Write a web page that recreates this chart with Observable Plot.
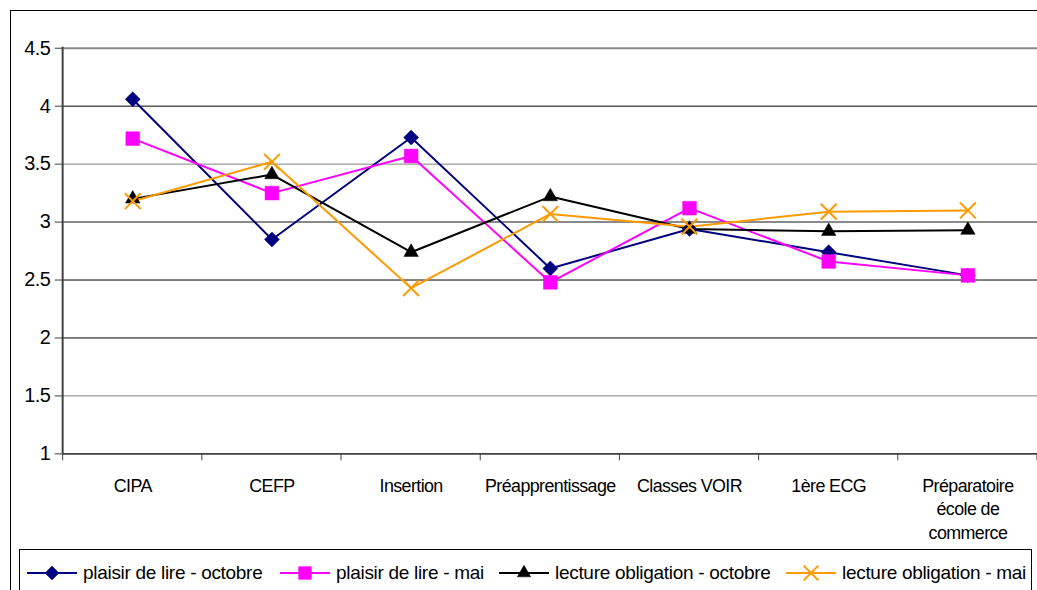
<!DOCTYPE html>
<html><head><meta charset="utf-8">
<script src="https://cdn.jsdelivr.net/npm/d3@7"></script>
<script src="https://cdn.jsdelivr.net/npm/@observablehq/plot@0.6"></script>
<style>
html,body{margin:0;padding:0;background:#fff;overflow:hidden;width:1037px;height:590px}
#wrap{position:relative;width:1037px;height:590px;overflow:hidden;font-family:'Liberation Sans',Arial,sans-serif}
#frame{position:absolute;left:10px;top:10px;width:1200px;height:700px;border:1px solid #000;box-sizing:border-box}
#chart{position:absolute;left:0;top:0}
#legend{position:absolute;left:19px;top:549px;width:1013px;height:60px;border:1px solid #000;box-sizing:border-box;background:#fff;
  font-size:19px;letter-spacing:-0.3px;color:#000;white-space:nowrap}
.item{position:absolute;top:12px;display:flex;align-items:center}
.item svg{margin-right:6px;overflow:visible}
</style></head>
<body><div id="wrap"><div id="frame"></div><div id="chart"></div><div id="legend"></div></div>
<script>
// ---- data ----
const categories = ["CIPA","CEFP","Insertion","Préapprentissage","Classes VOIR","1ère ECG","Préparatoire école de commerce"];
const tickLabels = ["CIPA","CEFP","Insertion","Préapprentissage","Classes VOIR","1ère ECG","Préparatoire\nécole de\ncommerce"];
const seriesNames = ["plaisir de lire - octobre","plaisir de lire - mai","lecture obligation - octobre","lecture obligation - mai"];
const plaisirOctobre   = [4.06, 2.85, 3.73, 2.60, 2.94, 2.74, 2.54];
const plaisirMai       = [3.72, 3.25, 3.57, 2.48, 3.12, 2.66, 2.54];
const obligationOctobre= [3.20, 3.41, 2.74, 3.22, 2.94, 2.92, 2.93];
const obligationMai    = [3.18, 3.52, 2.43, 3.07, 2.96, 3.09, 3.10];
const yTicks = [1, 1.5, 2, 2.5, 3, 3.5, 4, 4.5];

(function () {
// ---- styles ----
const seriesValues = [plaisirOctobre, plaisirMai, obligationOctobre, obligationMai];
const styles = [
  {color:"#000080", symbol:"diamond2", r:6.8, filled:true, legendLeft: 7},
  {color:"#FF00FF", symbol:"square", r:7.8, filled:true, legendLeft: 260},
  {color:"#000000", symbol:"triangle", r:5.4, filled:true, legendLeft: 479},
  {color:"#FF9900", symbol:"times", r:7.3, filled:false, legendLeft: 766}
];
const table = [];
seriesNames.forEach((s, si) => categories.forEach((c, ci) => table.push({series: s, cat: c, value: seriesValues[si][ci]})));
const labelOf = new Map(categories.map((c, i) => [c, tickLabels[i]]));
const grayGrid = new Set([4.5, 3.5, 3, 1.5]);
const thickGrid = new Set([4.5, 3]);
const font = "'Liberation Sans', Arial, sans-serif";

const marks = [
  Plot.ruleY(yTicks.filter(v => v > 1 && !grayGrid.has(v)), {y: d => d, stroke: "#000", strokeWidth: 1}),
  Plot.ruleY(yTicks.filter(v => grayGrid.has(v) && !thickGrid.has(v)), {y: d => d, stroke: "#808080", strokeWidth: 1}),
  Plot.ruleY(yTicks.filter(v => thickGrid.has(v)), {y: d => d, stroke: "#8a8a8a", strokeWidth: 2}),
  Plot.ruleY([1], {stroke: "#404040", strokeWidth: 2}),
  Plot.axisY({ticks: yTicks, tickSize: 8, tickPadding: 5, fontSize: 20, stroke: "#404040", label: null, tickFormat: d => String(d)}),
  Plot.text(categories, {x: d => d, text: d => labelOf.get(d), frameAnchor: "bottom", dy: 21, lineAnchor: "top", lineHeight: 1.33, fontSize: 18, fill: "#000"})
];
seriesNames.forEach((s, si) => {
  marks.push(Plot.line(table.filter(d => d.series === s), {x: "cat", y: "value", stroke: styles[si].color, strokeWidth: 2}));
});
seriesNames.forEach((s, si) => {
  const st = styles[si];
  marks.push(Plot.dot(table.filter(d => d.series === s), {x: "cat", y: "value", symbol: st.symbol, r: st.r,
    fill: st.filled ? st.color : "none", stroke: st.color, strokeWidth: st.filled ? 0.5 : 2}));
});

const plot = Plot.plot({
  width: 1043, height: 548,
  marginTop: 48, marginBottom: 92, marginLeft: 63, marginRight: 0,
  style: {fontFamily: font, background: "transparent", overflow: "visible", letterSpacing: "-0.6px", color: "#000"},
  x: {type: "band", domain: categories, padding: 0, axis: null},
  y: {domain: [1, 4.5], axis: null},
  marks
});
document.getElementById("chart").appendChild(plot);

// axis line and category boundary ticks from the scales
const xs = plot.scale("x"), ysc = plot.scale("y");
const svg = d3.select(plot);
const yBottom = ysc.apply(1), yTop = ysc.apply(4.5);
const edges = categories.map(c => xs.apply(c)).concat([xs.apply(categories[categories.length - 1]) + xs.bandwidth]);
const g = svg.append("g").attr("stroke", "#404040");
g.selectAll("line.t").data(edges).join("line").attr("x1", d => d).attr("x2", d => d)
  .attr("y1", yBottom).attr("y2", yBottom + 7).attr("stroke-width", 1);
g.append("line").attr("x1", edges[0]).attr("x2", edges[0]).attr("y1", yTop - 1).attr("y2", yBottom + 1).attr("stroke-width", 2);

// legend
const legend = d3.select("#legend");
const symMap = {diamond2: d3.symbolDiamond2, square: d3.symbolSquare, triangle: d3.symbolTriangle, times: d3.symbolTimes};
seriesNames.forEach((s, si) => {
  const st = styles[si];
  const it = legend.append("div").attr("class", "item").style("left", st.legendLeft + "px");
  const sv = it.append("svg").attr("width", 50).attr("height", 20);
  sv.append("line").attr("x1", 0).attr("x2", 50).attr("y1", 10).attr("y2", 10).attr("stroke", st.color).attr("stroke-width", 2);
  sv.append("path").attr("transform", "translate(25,10)")
    .attr("d", d3.symbol(symMap[st.symbol], Math.PI * st.r * st.r * 0.85)())
    .attr("fill", st.filled ? st.color : "none").attr("stroke", st.color).attr("stroke-width", st.filled ? 0.5 : 2);
  it.append("span").text(s);
});
})();
</script></body></html>
